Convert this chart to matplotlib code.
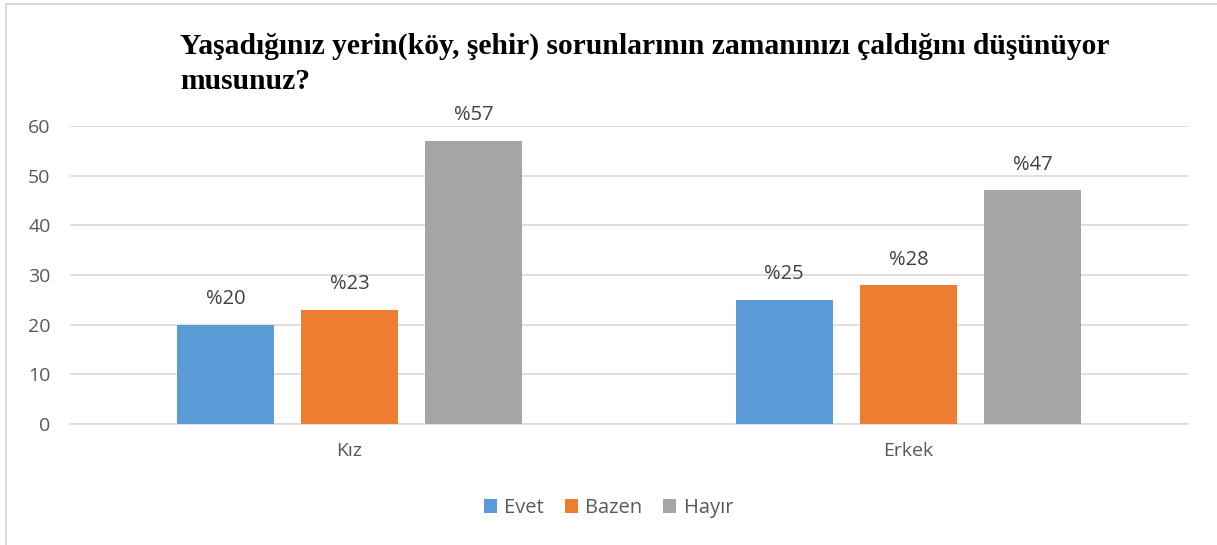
import numpy as np
import matplotlib.pyplot as plt
from matplotlib.patches import Rectangle

categories = ["Kız", "Erkek"]
series = ["Evet", "Bazen", "Hayır"]
evet = [20, 25]
bazen = [23, 28]
hayir = [57, 47]
colors = ["#5B9BD5", "#ED7D31", "#A5A5A5"]
title = "Yaşadığınız yerin(köy, şehir) sorunlarının zamanınızı çaldığını düşünüyor\nmusunuz?"

plt.rcParams["font.family"] = ["Open Sans", "DejaVu Sans"]

fig = plt.figure(figsize=(12.17, 5.45), dpi=100)
ax = fig.add_axes([0.0575, 0.222, 0.9185, 0.547])

# outer chart frame
fig.patches.append(Rectangle((6 / 1217, -0.1), 1.2, 1.1 - 4 / 545, transform=fig.transFigure,
                             fill=False, edgecolor="#D9D9D9", linewidth=1.5))

x = np.arange(len(categories))
width = 0.174
step = 0.222
for i, (name, vals) in enumerate(zip(series, [evet, bazen, hayir])):
    pos = x + (i - 1) * step
    bars = ax.bar(pos, vals, width, color=colors[i], label=name, zorder=3)
    for b, v in zip(bars, vals):
        ax.text(b.get_x() + b.get_width() / 2, v + 4.1, f"%{v}", ha="center", va="baseline",
                fontsize=14.5, color="#404040")

ax.set_xlim(-0.5, 1.5)
ax.set_ylim(0, 60)
ax.set_yticks(range(0, 61, 10))
ax.set_xticks(x)
ax.set_xticklabels(categories)
ax.grid(axis="y", color="#D9D9D9", linewidth=1.2, zorder=0)
for s in ["top", "right", "left"]:
    ax.spines[s].set_visible(False)
ax.spines["bottom"].set_color("#D9D9D9")
ax.spines["bottom"].set_linewidth(1.2)
ax.tick_params(axis="both", length=0, colors="#595959", labelsize=14)
ax.tick_params(axis="y", pad=14)
ax.tick_params(axis="x", pad=13)

fig.text(180 / 1217, 1 - 33 / 545, title, ha="left", va="top", fontsize=21.3,
         fontweight="bold", family="Liberation Serif", linespacing=1.36)

fig.legend(loc="center", bbox_to_anchor=(0.5, 1 - 508 / 545), ncol=3, frameon=False,
           fontsize=14.5, labelcolor="#595959", handlelength=0.65, handleheight=0.65,
           handletextpad=0.35, columnspacing=1.05)

fig.savefig("out.png", dpi=100)
